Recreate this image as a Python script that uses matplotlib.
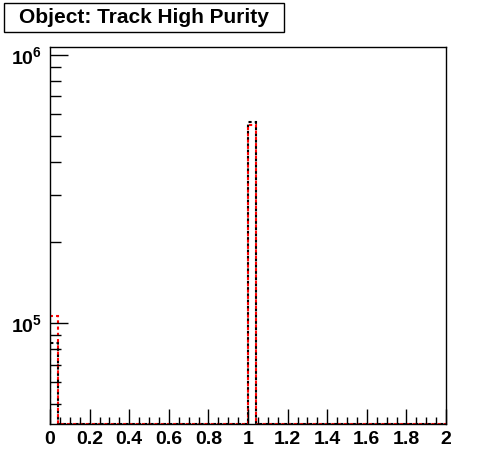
import matplotlib as mpl
mpl.use('Agg')
import matplotlib.pyplot as plt
import numpy as np
from matplotlib.patches import Rectangle
from matplotlib.ticker import FixedLocator, MultipleLocator, NullFormatter

plt.rcParams['font.family'] = ['Liberation Sans', 'DejaVu Sans']
plt.rcParams['mathtext.fontset'] = 'custom'
plt.rcParams['mathtext.bf'] = 'Liberation Sans:bold'
plt.rcParams['mathtext.rm'] = 'Liberation Sans:bold'

# 50 bins from 0 to 2
edges = np.linspace(0, 2, 51)
black_counts = np.zeros(50)
black_counts[0] = 84000
black_counts[25] = 560000
red_counts = np.zeros(50)
red_counts[0] = 106000
red_counts[25] = 548000

xticklabels = ['0', '0.2', '0.4', '0.6', '0.8', '1', '1.2', '1.4', '1.6', '1.8', '2']
ymin, ymax = 42000, 1.07e6

fig = plt.figure(figsize=(4.96, 4.72), dpi=100)
ax = fig.add_axes([50/496, 1-424/472, 396/496, 377/472])

ax.stairs(np.maximum(black_counts, ymin), edges, baseline=ymin, color='black',
          lw=1.5, linestyle=(0, (1.5, 1.5)))
ax.stairs(np.maximum(red_counts, ymin), edges, baseline=ymin, color='red',
          lw=1.5, linestyle=(2.25, (1.5, 1.5)))

ax.set_yscale('log')
ax.set_xlim(0, 2)
ax.set_ylim(ymin, ymax)

ax.set_xticks(np.arange(0, 2.01, 0.2))
ax.set_xticklabels(xticklabels)
ax.xaxis.set_minor_locator(MultipleLocator(0.05))
ax.yaxis.set_major_locator(FixedLocator([1e5, 1e6]))
ax.set_yticklabels([r'$\mathbf{10^{5}}$', r'$\mathbf{10^{6}}$'])
ax.yaxis.set_minor_locator(FixedLocator([5e4, 6e4, 7e4, 8e4, 9e4] + [k * 1e5 for k in range(2, 10)]))
ax.yaxis.set_minor_formatter(NullFormatter())

ax.tick_params(which='both', direction='in', top=False, right=False, width=1)
ax.tick_params(which='major', labelsize=14)
ax.tick_params(axis='x', which='major', length=11, pad=5)
ax.tick_params(axis='x', which='minor', length=5)
ax.tick_params(axis='y', which='major', length=13, pad=6)
ax.tick_params(axis='y', which='minor', length=8)
for lab in ax.get_xticklabels() + ax.get_yticklabels():
    lab.set_fontweight('bold')
for s in ax.spines.values():
    s.set_linewidth(1)

fig.patches.append(Rectangle((4/496, 1-32/472), 280/496, 29/472, transform=fig.transFigure,
                             fc='white', ec='black', lw=1))
fig.text(144/496, 1-17.5/472, 'Object: Track High Purity', fontsize=15, fontweight='bold',
         va='center', ha='center')

plt.savefig('out.png', dpi=100)
